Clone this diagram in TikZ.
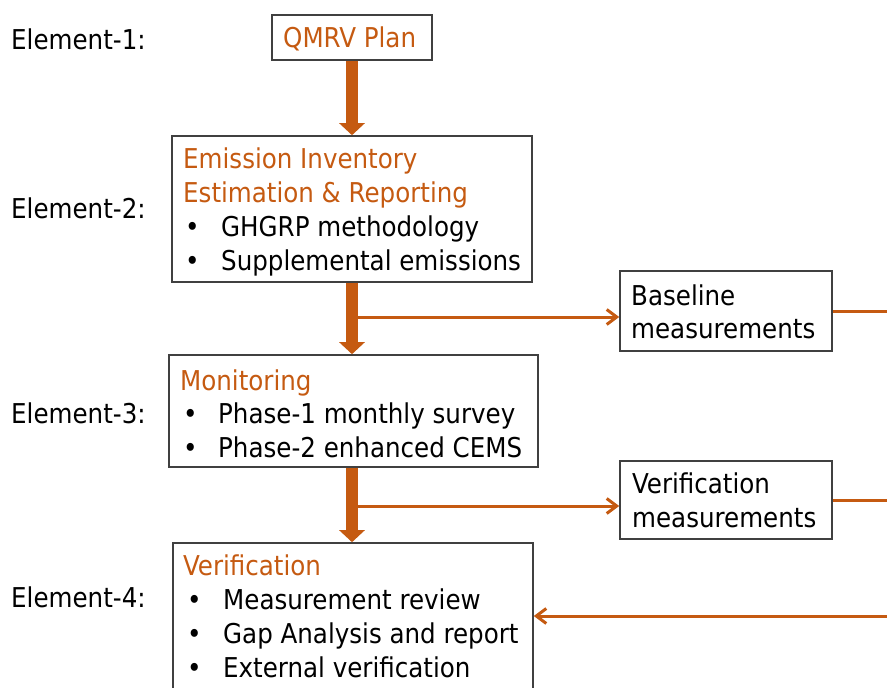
\documentclass[tikz,border=0pt]{standalone}
\usepackage{fontspec}
\setmainfont{DejaVu Sans Condensed}
\usetikzlibrary{arrows.meta}
\definecolor{accent}{RGB}{197,90,17}
\definecolor{frame}{RGB}{64,64,64}
\begin{document}
\begin{tikzpicture}[x=1pt,y=-1pt,
  box/.style={draw=frame, line width=1.6pt, inner sep=0pt},
  txt/.style={anchor=base west, inner sep=0pt, font=\fontsize{27.3}{34}\selectfont},
  head/.style={txt, text=accent},
  flow/.style={draw=accent, line width=12pt, -{Triangle[width=25pt,length=12pt]}},
  feed/.style={draw=accent, line width=3pt, -{Straight Barb[width=15pt,length=10pt]}},
  link/.style={draw=accent, line width=3pt}]
\useasboundingbox (0,0) rectangle (887,688);
\clip (0,0) rectangle (887,688);

% element labels
\node[txt] (l1) at (11,49) {Element-1:};
\node[txt] (l2) at (11,218) {Element-2:};
\node[txt] (l3) at (11,423) {Element-3:};
\node[txt] (l4) at (11,607) {Element-4:};

% frames
\node[box, minimum width=160pt, minimum height=45pt] (plan) at (352,37.5) {};
\node[box, minimum width=360pt, minimum height=146pt] (inv) at (352,209) {};
\node[box, minimum width=369pt, minimum height=112pt] (mon) at (353.5,411) {};
\node[box, minimum width=360pt, minimum height=176pt] (ver) at (353,631) {};
\node[box, minimum width=212pt, minimum height=80pt] (base) at (726,311) {};
\node[box, minimum width=212pt, minimum height=78pt] (vmeas) at (726,500) {};

% QMRV plan
\node[head] (tplan) at (283,47) {QMRV Plan};

% inventory
\node[head] (ti1) at (183,168) {Emission Inventory};
\node[head] (ti2) at (183,202) {Estimation \& Reporting};
\node[txt] (bi1) at (185,236) {•};
\node[txt] (ti3) at (221,236) {GHGRP methodology};
\node[txt] (bi2) at (185,270) {•};
\node[txt] (ti4) at (221,270) {Supplemental emissions};

% monitoring
\node[head] (tm1) at (180,390) {Monitoring};
\node[txt] (bm1) at (183,423) {•};
\node[txt] (tm2) at (218,423) {Phase-1 monthly survey};
\node[txt] (bm2) at (183,457) {•};
\node[txt] (tm3) at (218,457) {Phase-2 enhanced CEMS};

% verification
\node[head] (tv1) at (183,575) {Verification};
\node[txt] (bv1) at (187,609) {•};
\node[txt] (tv2) at (223,609) {Measurement review};
\node[txt] (bv2) at (187,643) {•};
\node[txt] (tv3) at (223,643) {Gap Analysis and report};
\node[txt] (bv3) at (187,677) {•};
\node[txt] (tv4) at (223,677) {External verification};

% side measurement boxes
\node[txt] (tb1) at (631,305) {Baseline};
\node[txt] (tb2) at (631,338) {measurements};
\node[txt] (tw1) at (632,493) {Verification};
\node[txt] (tw2) at (632,527) {measurements};

% main flow
\draw[flow] (plan.south) -- (inv.north);
\draw[flow] (inv.south) -- (inv.south |- mon.north);
\draw[flow] (inv.south |- mon.south) -- (inv.south |- ver.north);

% branches to measurement boxes
\coordinate (j1) at (358,317);
\coordinate (j2) at (358,506);
\draw[feed] (j1) -- (j1 -| base.west);
\draw[feed] (j2) -- (j2 -| vmeas.west);

% lines running off the right edge
\coordinate (edge) at (890,0);
\draw[link] (base.east) -- (base.east -| edge);
\draw[link] (vmeas.east) -- (vmeas.east -| edge);
\coordinate (back) at (890,616);
\draw[feed] (back) -- (back -| ver.east);
\end{tikzpicture}
\end{document}
